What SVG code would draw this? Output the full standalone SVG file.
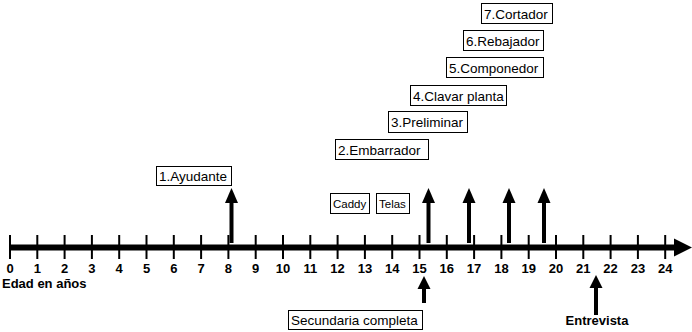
<svg xmlns="http://www.w3.org/2000/svg" width="692" height="332" viewBox="0 0 692 332">
<style>
.box{fill:#fff;stroke:#000;stroke-width:1}
.lbl{font-family:"Liberation Sans",Arial,sans-serif;font-size:13.5px;fill:#000}
.sm{font-family:"Liberation Sans",Arial,sans-serif;font-size:11.5px;fill:#000}
.num{font-family:"Liberation Sans",Arial,sans-serif;font-size:13px;font-weight:bold;fill:#000;text-anchor:middle}
.bold{font-family:"Liberation Sans",Arial,sans-serif;font-size:13px;font-weight:bold;fill:#000}
.tick{stroke:#000;stroke-width:2}
.shaft{stroke:#000;stroke-width:4}
</style>
<g id="axis">
<line x1="9" y1="247.5" x2="676" y2="247.5" stroke="#000" stroke-width="6"/>
<polygon points="674,238.5 692,247.5 674,256.5" fill="#000"/>
<g id="ticks">
<line class="tick" x1="10" y1="235" x2="10" y2="259"/>
<line class="tick" x1="37.3" y1="235" x2="37.3" y2="259"/>
<line class="tick" x1="64.6" y1="235" x2="64.6" y2="259"/>
<line class="tick" x1="91.9" y1="235" x2="91.9" y2="259"/>
<line class="tick" x1="119.2" y1="235" x2="119.2" y2="259"/>
<line class="tick" x1="146.5" y1="235" x2="146.5" y2="259"/>
<line class="tick" x1="173.8" y1="235" x2="173.8" y2="259"/>
<line class="tick" x1="201.1" y1="235" x2="201.1" y2="259"/>
<line class="tick" x1="228.4" y1="235" x2="228.4" y2="259"/>
<line class="tick" x1="255.7" y1="235" x2="255.7" y2="259"/>
<line class="tick" x1="283" y1="235" x2="283" y2="259"/>
<line class="tick" x1="310.3" y1="235" x2="310.3" y2="259"/>
<line class="tick" x1="337.6" y1="235" x2="337.6" y2="259"/>
<line class="tick" x1="364.9" y1="235" x2="364.9" y2="259"/>
<line class="tick" x1="392.2" y1="235" x2="392.2" y2="259"/>
<line class="tick" x1="419.5" y1="235" x2="419.5" y2="259"/>
<line class="tick" x1="446.8" y1="235" x2="446.8" y2="259"/>
<line class="tick" x1="474.1" y1="235" x2="474.1" y2="259"/>
<line class="tick" x1="501.4" y1="235" x2="501.4" y2="259"/>
<line class="tick" x1="528.7" y1="235" x2="528.7" y2="259"/>
<line class="tick" x1="556" y1="235" x2="556" y2="259"/>
<line class="tick" x1="583.3" y1="235" x2="583.3" y2="259"/>
<line class="tick" x1="610.6" y1="235" x2="610.6" y2="259"/>
<line class="tick" x1="637.9" y1="235" x2="637.9" y2="259"/>
<line class="tick" x1="665.2" y1="235" x2="665.2" y2="259"/>
</g>
<g id="numbers">
<text class="num" x="10" y="272.5">0</text>
<text class="num" x="37.3" y="272.5">1</text>
<text class="num" x="64.6" y="272.5">2</text>
<text class="num" x="91.9" y="272.5">3</text>
<text class="num" x="119.2" y="272.5">4</text>
<text class="num" x="146.5" y="272.5">5</text>
<text class="num" x="173.8" y="272.5">6</text>
<text class="num" x="201.1" y="272.5">7</text>
<text class="num" x="228.4" y="272.5">8</text>
<text class="num" x="255.7" y="272.5">9</text>
<text class="num" x="283" y="272.5">10</text>
<text class="num" x="310.3" y="272.5">11</text>
<text class="num" x="337.6" y="272.5">12</text>
<text class="num" x="364.9" y="272.5">13</text>
<text class="num" x="392.2" y="272.5">14</text>
<text class="num" x="419.5" y="272.5">15</text>
<text class="num" x="446.8" y="272.5">16</text>
<text class="num" x="474.1" y="272.5">17</text>
<text class="num" x="501.4" y="272.5">18</text>
<text class="num" x="528.7" y="272.5">19</text>
<text class="num" x="556" y="272.5">20</text>
<text class="num" x="583.3" y="272.5">21</text>
<text class="num" x="610.6" y="272.5">22</text>
<text class="num" x="637.9" y="272.5">23</text>
<text class="num" x="665.2" y="272.5">24</text>
</g>
<text class="bold" x="2" y="287.5">Edad en años</text>
</g>
<g id="connectors">
<line class="shaft" x1="231.5" y1="202" x2="231.5" y2="243"/>
<polygon points="225,203 231.5,188 238,203" fill="#000"/>
<line class="shaft" x1="428.5" y1="202" x2="428.5" y2="243"/>
<polygon points="422,203 428.5,188 435,203" fill="#000"/>
<line class="shaft" x1="469" y1="202" x2="469" y2="243"/>
<polygon points="462.5,203 469,188 475.5,203" fill="#000"/>
<line class="shaft" x1="509" y1="202" x2="509" y2="243"/>
<polygon points="502.5,203 509,188 515.5,203" fill="#000"/>
<line class="shaft" x1="544" y1="202" x2="544" y2="243"/>
<polygon points="537.5,203 544,188 550.5,203" fill="#000"/>
<line class="shaft" x1="424" y1="288" x2="424" y2="303"/>
<polygon points="417.5,289 424,276 430.5,289" fill="#000"/>
<line class="shaft" x1="596" y1="287" x2="596" y2="315"/>
<polygon points="589.5,288 596,275 602.5,288" fill="#000"/>
</g>
<g id="n7"><rect class="box" x="481.5" y="3.5" width="71" height="20"/><text class="lbl" x="484" y="18.5">7.Cortador</text></g>
<g id="n6"><rect class="box" x="463.5" y="30.5" width="80" height="20"/><text class="lbl" x="466" y="45.5">6.Rebajador</text></g>
<g id="n5"><rect class="box" x="446.5" y="57.5" width="97" height="20"/><text class="lbl" x="449" y="72.5">5.Componedor</text></g>
<g id="n4"><rect class="box" x="410.5" y="85.5" width="96" height="20"/><text class="lbl" x="413" y="100.5">4.Clavar planta</text></g>
<g id="n3"><rect class="box" x="388.5" y="111.5" width="79" height="21"/><text class="lbl" x="391" y="127">3.Preliminar</text></g>
<g id="n2"><rect class="box" x="335.5" y="139.5" width="93" height="20"/><text class="lbl" x="338" y="154.5">2.Embarrador</text></g>
<g id="n1"><rect class="box" x="156.5" y="166.5" width="75" height="19"/><text class="lbl" x="159" y="181">1.Ayudante</text></g>
<g id="caddy"><rect class="box" x="330.5" y="193.5" width="39" height="20"/><text class="sm" x="333" y="208">Caddy</text></g>
<g id="telas"><rect class="box" x="376.5" y="193.5" width="33" height="20"/><text class="sm" x="379" y="208">Telas</text></g>
<g id="secundaria"><rect class="box" x="288.5" y="310.5" width="134" height="19"/><text class="lbl" x="291" y="325">Secundaria completa</text></g>
<g id="entrevista"><text class="bold" x="597" y="325" text-anchor="middle" font-size="12">Entrevista</text></g>
</svg>
